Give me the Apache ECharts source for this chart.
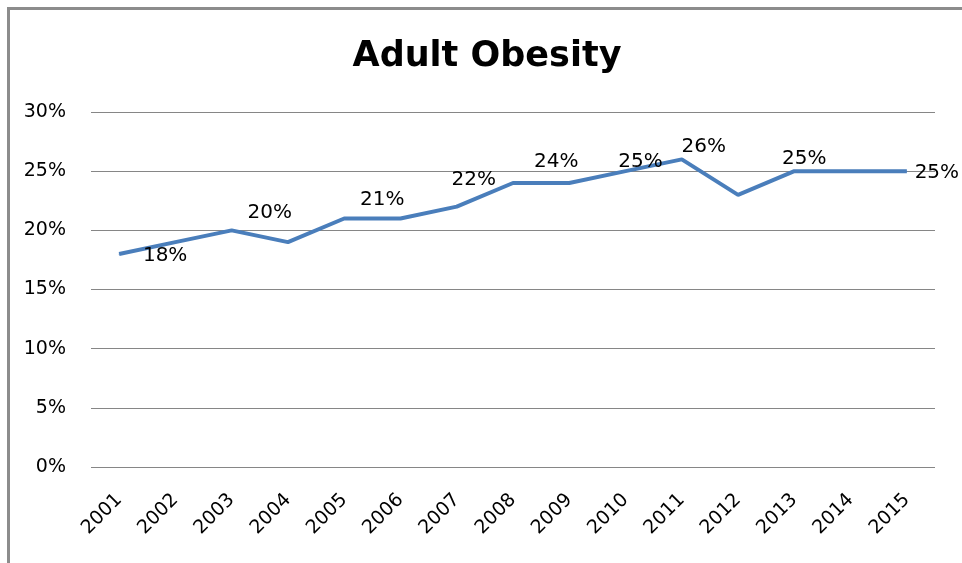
<!DOCTYPE html>
<html>
<head>
<meta charset="utf-8">
<script src="https://cdn.jsdelivr.net/npm/echarts@6/dist/echarts.min.js"></script>
<style>
  html, body { margin: 0; padding: 0; background: #fff; }
  #wrap { position: relative; width: 962px; height: 563px; overflow: hidden; }
  #chart { width: 962px; height: 563px; }
  /* excel chart area frame, only top and left edges are visible */
  .frame {
    position: absolute; left: 7px; top: 7px; width: 1000px; height: 600px;
    border-left: 3px solid #8c8c8c; border-top: 3px solid #8c8c8c;
    pointer-events: none;
  }
</style>
</head>
<body>
<div id="wrap">
  <div id="chart"></div>
  <div class="frame"></div>
</div>
<script>
const years = ['2001', '2002', '2003', '2004', '2005', '2006', '2007', '2008',
  '2009', '2010', '2011', '2012', '2013', '2014', '2015']
const obesity = [18, 19, 20, 19, 21, 21, 22, 24, 24, 25, 26, 23, 25, 25, 25]
// which points carry a data label, as shown in the picture
const labelledYears = ['2001', '2003', '2005', '2007', '2009', '2010', '2011', '2013', '2015']
const yTicks = [0, 5, 10, 15, 20, 25, 30]

// label nudges (px from the point) to mimic excel's placement
const labelNudge = {
  '2001': [46, 2], '2003': [38, -18], '2005': [38, -19], '2007': [17, -27],
  '2009': [-13, -21], '2010': [15, -9], '2011': [22, -13], '2013': [10, -12],
  '2015': [30, 2]
}

const FONT = '"DejaVu Sans", sans-serif'
const BLUE = '#4a7ebb'

const seriesData = obesity.map((v, i) => {
  const y = years[i]
  if (labelledYears.indexOf(y) < 0) return { value: v, label: { show: false } }
  return {
    value: v,
    label: {
      show: true,
      position: 'inside',
      align: 'center',
      verticalAlign: 'middle',
      offset: labelNudge[y],
      formatter: (p) => p.value + '%'
    }
  }
})

const chart = echarts.init(document.getElementById('chart'))
chart.setOption({
  animation: false,
  title: {
    text: 'Adult Obesity',
    left: 482,
    textAlign: 'center',
    top: 34,
    textStyle: { fontFamily: FONT, fontWeight: 'bold', fontSize: 35, color: '#000' }
  },
  grid: { left: 91, right: 27, top: 112, bottom: 96 },
  xAxis: {
    type: 'category',
    data: years,
    axisLine: { show: false },
    axisTick: { show: false },
    axisLabel: {
      rotate: 45, interval: 0, margin: 30,
      color: '#000', fontSize: 19, fontFamily: FONT
    }
  },
  yAxis: {
    type: 'value',
    min: yTicks[0],
    max: yTicks[yTicks.length - 1],
    interval: 5,
    axisLine: { show: false },
    axisTick: { show: false },
    axisLabel: {
      margin: 25, color: '#000', fontSize: 19, fontFamily: FONT,
      formatter: (v) => v + '%'
    },
    splitLine: { lineStyle: { color: '#868686', width: 1 } }
  },
  series: [{
    type: 'line',
    data: seriesData,
    symbol: 'circle',
    symbolSize: 1,
    itemStyle: { color: BLUE },
    lineStyle: { color: BLUE, width: 4 },
    label: { color: '#000', fontSize: 20, fontFamily: FONT }
  }]
})
</script>
</body>
</html>
